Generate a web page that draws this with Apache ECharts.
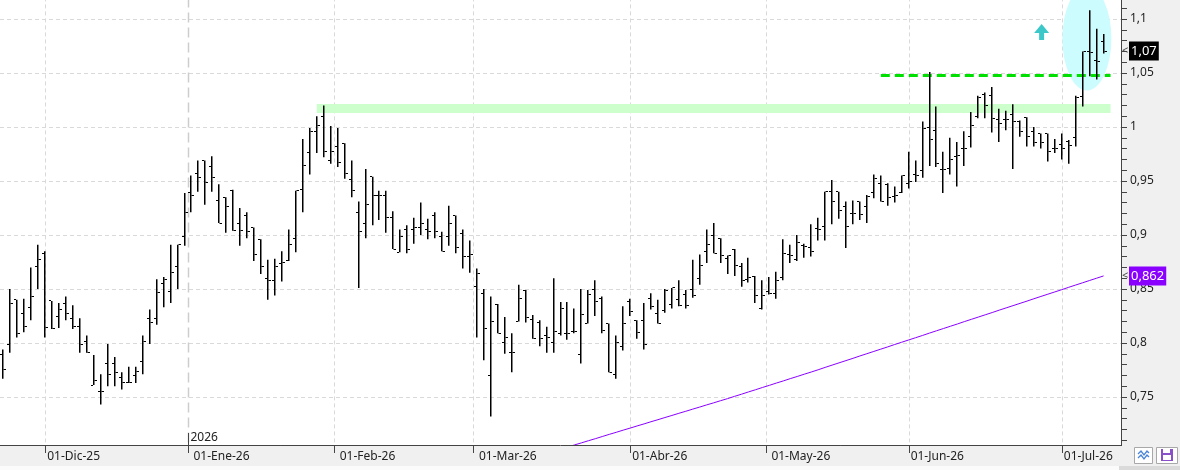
<!DOCTYPE html>
<html><head><meta charset="utf-8">
<script src="https://cdn.jsdelivr.net/npm/echarts@6/dist/echarts.min.js"></script>
<style>html,body{margin:0;padding:0;background:#f0f0f0}#c{width:1180px;height:470px}</style>
</head><body><div id="c"></div>
<script>
// ---------- DATA ----------
const startDate = '2025-11-21';
const barCount = 159;
const padCount = 2;
const holidays = ['2025-12-25','2025-12-26','2026-01-01','2026-04-03','2026-04-06','2026-05-01'];
const monthNames = ['Ene','Feb','Mar','Abr','May','Jun','Jul','Ago','Sep','Oct','Nov','Dic'];

const opens = [
0.789,0.799,0.840,0.827,0.833,0.871,0.883,0.839,0.825,0.837,0.823,0.815,0.801,0.761,0.755,0.781,0.781,0.768,0.763,0.770,
0.783,0.823,0.823,0.855,0.848,0.871,0.899,0.939,0.957,0.969,0.963,0.932,0.935,0.941,0.911,0.918,0.907,0.896,0.860,0.858,
0.874,0.876,0.897,0.942,0.976,0.996,1.010,0.969,0.982,0.985,0.951,0.921,0.911,0.954,0.937,0.937,0.916,0.884,0.905,0.905,
0.907,0.905,0.918,0.899,0.899,0.918,0.901,0.880,0.852,0.846,0.770,0.836,0.800,0.791,0.820,0.849,0.822,0.819,0.807,0.800,
0.809,0.809,0.811,0.789,0.818,0.850,0.841,0.818,0.771,0.797,0.838,0.821,0.821,0.841,0.827,0.830,0.836,0.840,0.845,0.850,
0.860,0.885,0.900,0.897,0.878,0.887,0.871,0.859,0.862,0.832,0.848,0.846,0.861,0.882,0.877,0.890,0.888,0.906,0.908,0.940,
0.940,0.926,0.920,0.931,0.926,0.939,0.948,0.947,0.936,0.939,0.948,0.956,0.960,1.000,0.997,0.961,0.962,0.973,0.980,0.991,
1.010,1.030,1.029,1.007,1.007,1.012,1.005,1.009,0.996,0.994,0.994,0.980,0.984,0.987,0.990,1.028,1.070,1.062,1.079];
const highs = [
0.794,0.850,0.840,0.841,0.870,0.891,0.885,0.839,0.837,0.843,0.835,0.823,0.807,0.789,0.771,0.799,0.787,0.773,0.778,0.778,
0.807,0.831,0.859,0.861,0.891,0.891,0.939,0.955,0.969,0.969,0.973,0.947,0.935,0.942,0.925,0.921,0.907,0.896,0.877,0.878,
0.885,0.905,0.941,0.989,0.999,1.010,1.020,1.001,0.999,0.985,0.969,0.931,0.961,0.954,0.941,0.941,0.922,0.905,0.909,0.916,
0.930,0.915,0.921,0.903,0.927,0.918,0.905,0.895,0.869,0.850,0.843,0.836,0.824,0.809,0.854,0.849,0.826,0.821,0.815,0.860,
0.838,0.838,0.832,0.850,0.849,0.858,0.843,0.818,0.807,0.834,0.841,0.821,0.837,0.846,0.840,0.850,0.851,0.858,0.849,0.877,
0.882,0.905,0.911,0.897,0.881,0.887,0.874,0.879,0.862,0.858,0.861,0.866,0.896,0.891,0.900,0.892,0.910,0.916,0.940,0.951,
0.940,0.931,0.932,0.931,0.937,0.956,0.955,0.948,0.945,0.955,0.977,0.969,1.005,1.051,1.019,0.977,0.990,0.986,0.996,1.014,
1.029,1.032,1.037,1.017,1.015,1.021,1.006,1.009,1.000,0.994,0.994,0.989,0.994,0.988,1.029,1.070,1.108,1.091,1.086];
const lows = [
0.767,0.791,0.805,0.810,0.821,0.850,0.805,0.813,0.814,0.821,0.813,0.791,0.791,0.761,0.743,0.760,0.760,0.757,0.763,0.763,
0.771,0.799,0.817,0.833,0.837,0.850,0.890,0.921,0.940,0.928,0.940,0.911,0.902,0.904,0.890,0.897,0.876,0.864,0.840,0.844,
0.857,0.876,0.884,0.921,0.956,0.976,0.972,0.966,0.963,0.952,0.935,0.851,0.897,0.909,0.914,0.902,0.887,0.884,0.883,0.892,
0.900,0.896,0.897,0.885,0.890,0.883,0.869,0.865,0.805,0.784,0.732,0.809,0.790,0.773,0.820,0.819,0.804,0.797,0.791,0.791,
0.807,0.803,0.809,0.781,0.818,0.825,0.809,0.773,0.767,0.793,0.825,0.804,0.794,0.831,0.818,0.828,0.832,0.834,0.832,0.842,
0.854,0.874,0.883,0.874,0.864,0.862,0.852,0.856,0.837,0.831,0.845,0.841,0.858,0.874,0.876,0.879,0.880,0.895,0.895,0.910,
0.915,0.888,0.910,0.914,0.911,0.934,0.931,0.927,0.930,0.939,0.943,0.949,0.953,0.964,0.963,0.939,0.956,0.945,0.964,0.981,
1.008,1.008,0.995,0.986,0.997,0.961,0.991,0.982,0.982,0.980,0.968,0.976,0.970,0.966,0.982,1.019,1.047,1.044,1.068];
const closes = [
0.775,0.837,0.809,0.815,0.843,0.877,0.814,0.813,0.831,0.827,0.815,0.799,0.791,0.765,0.755,0.771,0.773,0.763,0.763,0.774,
0.801,0.819,0.847,0.859,0.865,0.891,0.921,0.937,0.953,0.949,0.953,0.911,0.926,0.904,0.904,0.903,0.882,0.871,0.858,0.871,
0.875,0.891,0.941,0.964,0.996,1.001,0.977,0.977,0.967,0.957,0.941,0.903,0.928,0.937,0.937,0.916,0.887,0.899,0.887,0.907,
0.911,0.903,0.903,0.885,0.911,0.888,0.880,0.882,0.864,0.813,0.820,0.809,0.805,0.791,0.841,0.824,0.804,0.804,0.805,0.811,
0.832,0.809,0.811,0.826,0.845,0.838,0.812,0.773,0.800,0.818,0.829,0.810,0.799,0.834,0.818,0.849,0.851,0.835,0.835,0.844,
0.872,0.891,0.883,0.881,0.881,0.872,0.858,0.861,0.844,0.844,0.846,0.858,0.883,0.881,0.893,0.889,0.885,0.905,0.940,0.931,
0.923,0.908,0.920,0.919,0.936,0.952,0.931,0.935,0.937,0.955,0.950,0.955,0.999,0.988,0.966,0.961,0.970,0.974,0.980,1.001,
1.027,1.020,1.008,1.003,1.007,1.005,0.996,0.991,0.986,0.986,0.977,0.980,0.980,0.983,1.027,1.070,1.069,1.061,1.070];

// long moving average (purple), starting at bar index 81
const maStart = 81;
const maValues = [
0.7036,0.7056,0.7075,0.7095,0.7114,0.7134,0.7154,0.7173,0.7193,0.7212,0.7232,0.7251,0.7271,0.7290,0.7310,0.7329,0.7349,0.7368,0.7388,0.7407,
0.7427,0.7446,0.7466,0.7485,0.7506,0.7526,0.7547,0.7567,0.7588,0.7608,0.7629,0.7649,0.7670,0.7690,0.7711,0.7731,0.7752,0.7774,0.7795,0.7816,
0.7837,0.7858,0.7880,0.7901,0.7922,0.7943,0.7964,0.7986,0.8007,0.8028,0.8049,0.8070,0.8092,0.8113,0.8134,0.8155,0.8176,0.8198,0.8219,0.8240,
0.8261,0.8282,0.8304,0.8325,0.8346,0.8367,0.8388,0.8410,0.8431,0.8452,0.8473,0.8494,0.8516,0.8537,0.8558,0.8579,0.8600,0.8621];

// annotations (category index, value)
const bandLow = 1.013, bandHigh = 1.0213, bandStartIdx = 45, bandEndIdx = 159;
const breakoutLevel = 1.048, breakoutStartIdx = 126, breakoutEndIdx = 159;
const ellipseCenter = [155.6, 1.082];
const arrowAnchor = [149.1, 1.088];
const yAxisMin = 0.70, yAxisMax = 1.12, yAxisStep = 0.05;

// ---------- BUILD ----------
function tradingDays(start, n) {
  const out = []; const d = new Date(start + 'T00:00:00Z');
  while (out.length < n) {
    const dow = d.getUTCDay(); const s = d.toISOString().slice(0, 10);
    if (dow !== 0 && dow !== 6 && holidays.indexOf(s) < 0) out.push(s);
    d.setUTCDate(d.getUTCDate() + 1);
  }
  return out;
}
const categories = tradingDays(startDate, barCount + padCount);
const monthStartIdx = [];
const monthLinePos = [];
for (let i = 1; i < barCount; i++) {
  if (categories[i].slice(5, 7) !== categories[i - 1].slice(5, 7)) {
    monthStartIdx.push(i);
    const day = +categories[i].slice(8, 10);
    monthLinePos.push({ pos: day === 1 ? i : i - 0.5, year: categories[i].slice(5, 7) === '01', yearText: categories[i].slice(0, 4) });
  }
}
const FONT = '"Noto Sans", "DejaVu Sans", sans-serif';
const ohlcData = opens.map((o, i) => [i, o, closes[i], lows[i], highs[i]]);
const maData = categories.map((c, i) => (i >= maStart && i - maStart < maValues.length) ? maValues[i - maStart] : null);
const lastClose = closes[closes.length - 1];
const lastMA = maValues[maValues.length - 1];
const fmtComma = (v, d) => v.toFixed(d).replace('.', ',');
const priceTags = [
  { value: lastClose, text: fmtComma(lastClose, 2), bg: '#000000' },
  { value: lastMA, text: fmtComma(lastMA, 3), bg: '#8a00ff' }
];

function fracPoint(api, xi, v) {
  const i0 = Math.floor(xi);
  const p = api.coord([i0, v]);
  p[0] += (xi - i0) * api.size([1, 0])[0];
  return p;
}

const chart = echarts.init(document.getElementById('c'), null, { renderer: 'canvas' });
const option = {
  animation: false,
  backgroundColor: '#f0f0f0',
  grid: { left: 0, top: -2.6, width: 1121, height: 453.6, containLabel: false, outerBoundsMode: 'none' },
  xAxis: {
    type: 'category', data: categories, boundaryGap: true, offset: -6, z: 6,
    axisLine: { onZero: false, lineStyle: { color: '#444', width: 1 } },
    axisTick: { show: false },
    splitLine: { show: false },
    axisLabel: {
      interval: (idx) => monthStartIdx.indexOf(idx) >= 0,
      formatter: (val) => '01-' + monthNames[+val.slice(5, 7) - 1] + '-' + val.slice(2, 4),
      align: 'left', margin: 5, padding: [0, 0, 0, 2], color: '#222', fontSize: 12, fontFamily: FONT, lineHeight: 14
    }
  },
  yAxis: {
    type: 'value', position: 'right', min: yAxisMin, max: yAxisMax, interval: yAxisStep, z: 0,
    axisLine: { show: true, lineStyle: { color: '#444' } },
    axisTick: { show: true, inside: false, length: 6, lineStyle: { color: '#444' } },
    minorTick: { show: true, splitNumber: 5, length: 6, lineStyle: { color: '#444' } },
    splitLine: { show: true, lineStyle: { color: '#d9d9d9', type: [4, 3] } },
    axisLabel: { margin: 9, color: '#222', fontSize: 12, fontFamily: FONT, showMinLabel: false, showMaxLabel: false,
      formatter: (v) => String(+v.toFixed(2)).replace('.', ',') }
  },
  series: [
    { // calendar month separators
      type: 'custom', name: 'months', z: 0.5, silent: true,
      data: monthLinePos.map((m, k) => [k, 1]),
      renderItem: (params, api) => {
        const m = monthLinePos[api.value(0)];
        const cs = params.coordSys;
        const x = Math.round(fracPoint(api, m.pos, 1)[0]) + 0.5;
        return { type: 'line', shape: { x1: x, y1: cs.y, x2: x, y2: cs.y + cs.height },
          style: m.year ? { stroke: '#cdcdcd', lineWidth: 1.5, lineDash: [10, 5] } : { stroke: '#d9d9d9', lineWidth: 1, lineDash: [4, 3] } };
      }
    },
    { // highlight ellipse
      type: 'custom', name: 'highlight', z: 1, silent: true,
      data: [[0, 1]],
      renderItem: (params, api) => {
        const p = fracPoint(api, ellipseCenter[0], ellipseCenter[1]);
        return { type: 'circle', x: p[0], y: p[1], scaleY: 52 / 24.5, shape: { cx: 0, cy: 0, r: 24.5 }, style: { fill: '#cdfcfe' } };
      }
    },
    { // arrow
      type: 'custom', name: 'arrow', z: 1, silent: true,
      data: [[0, 1]],
      renderItem: (params, api) => {
        const p = fracPoint(api, arrowAnchor[0], arrowAnchor[1]);
        const x = p[0], y = p[1];
        return { type: 'polygon', shape: { points: [[x, y - 8], [x + 7.5, y + 1], [x + 2.5, y + 1], [x + 2.5, y + 8], [x - 2.5, y + 8], [x - 2.5, y + 1], [x - 7.5, y + 1]] },
          style: { fill: '#3cc8c8' } };
      }
    },
    {
      type: 'line', name: 'MA', data: maData, z: 2, symbol: 'none', clip: true, silent: true,
      lineStyle: { color: '#8a00ff', width: 1 },
      markArea: {
        silent: true, z: 1,
        itemStyle: { color: '#ccffcc' },
        data: [[{ xAxis: categories[bandStartIdx], yAxis: bandLow }, { xAxis: categories[bandEndIdx], yAxis: bandHigh }]]
      },
      markLine: {
        silent: true, z: 2.5, symbol: ['none', 'none'], label: { show: false },
        lineStyle: { color: '#00e000', width: 3, type: [9, 5] },
        data: [[{ xAxis: categories[breakoutStartIdx], yAxis: breakoutLevel }, { xAxis: categories[breakoutEndIdx], yAxis: breakoutLevel }]]
      }
    },
    {
      type: 'custom', name: 'OHLC', z: 3, silent: true,
      data: ohlcData,
      encode: { x: 0, y: [1, 2, 3, 4] },
      renderItem: (params, api) => {
        const i = api.value(0);
        const pO = api.coord([i, api.value(1)]);
        const pC = api.coord([i, api.value(2)]);
        const pL = api.coord([i, api.value(3)]);
        const pH = api.coord([i, api.value(4)]);
        const cx = Math.round(pO[0]);
        return { type: 'group', children: [
          { type: 'rect', shape: { x: cx - 1, y: pH[1], width: 1.5, height: Math.max(1, pL[1] - pH[1]) }, style: { fill: '#000' } },
          { type: 'rect', shape: { x: cx - 3, y: Math.round(pO[1] - 0.5), width: 2, height: 1 }, style: { fill: '#000' } },
          { type: 'rect', shape: { x: cx + 0.5, y: Math.round(pC[1] - 0.5), width: 2.5, height: 1 }, style: { fill: '#000' } }
        ] };
      }
    },
    { // last-value tags on the price axis
      type: 'custom', name: 'priceTags', z: 4, silent: true,
      data: priceTags.map((t, k) => [k, t.value]),
      renderItem: (params, api) => {
        const t = priceTags[api.value(0)];
        const cs = params.coordSys;
        const y = Math.round(api.coord([0, t.value])[1]);
        const xr = cs.x + cs.width;
        return { type: 'group', children: [
          { type: 'text', x: xr + 1, y: y, style: { text: '<', fill: '#444', font: '11px ' + FONT, verticalAlign: 'middle', align: 'left' } },
          { type: 'text', x: xr + 8, y: y, style: { text: t.text, fill: '#fff', backgroundColor: t.bg, padding: [2, 2, 2, 2], lineHeight: 15, font: '13px ' + FONT, verticalAlign: 'middle', align: 'left' } }
        ] };
      }
    },
    { // axis ticks at month boundaries and year marker
      type: 'custom', name: 'axisMarks', z: 7, silent: true,
      data: monthLinePos.map((m, k) => [k, 1]),
      renderItem: (params, api) => {
        const m = monthLinePos[api.value(0)];
        const cs = params.coordSys;
        const axisY = cs.y + cs.height - 6;
        const x = Math.round(fracPoint(api, m.pos, 1)[0]) + 0.5;
        const children = [{ type: 'line', shape: { x1: x, y1: m.year ? axisY - 12 : axisY, x2: x, y2: axisY + 8 }, style: { stroke: '#444', lineWidth: 1 } }];
        if (m.year) children.push({ type: 'text', x: x + 2, y: axisY - 7, style: { text: m.yearText, fill: '#222', font: '12px ' + FONT, verticalAlign: 'middle', align: 'left' } });
        return { type: 'group', children };
      }
    }
  ],
  graphic: [
    { type: 'rect', z: -10, silent: true, shape: { x: 0, y: 0, width: 1121, height: 445 }, style: { fill: '#ffffff' } },
    { type: 'rect', z: 5, silent: true, shape: { x: 0, y: 446, width: 1180, height: 20 }, style: { fill: '#f0f0f0' } },
    { type: 'rect', z: 5, silent: true, shape: { x: 0, y: 466, width: 1119, height: 4 }, style: { fill: '#fbfbfb' } },
    { type: 'rect', z: 5, silent: true, shape: { x: 1119, y: 466, width: 61, height: 4 }, style: { fill: '#dadada' } },
    { type: 'rect', z: 7, silent: true, shape: { x: 1134.5, y: 447.5, width: 18, height: 16 }, style: { fill: '#fff', stroke: '#a8a8a8', lineWidth: 1 } },
    { type: 'polyline', z: 8, silent: true, shape: { points: [[1138, 454], [1141, 451], [1144, 455], [1147, 451], [1149, 453]] }, style: { stroke: '#4a86d8', lineWidth: 1.3, fill: null } },
    { type: 'polyline', z: 8, silent: true, shape: { points: [[1138, 458], [1141, 455], [1144, 459], [1147, 455], [1149, 457]] }, style: { stroke: '#4a86d8', lineWidth: 1.3, fill: null } },
    { type: 'rect', z: 7, silent: true, shape: { x: 1156.5, y: 447.5, width: 21, height: 16 }, style: { fill: '#fff', stroke: '#a8a8a8', lineWidth: 1 } },
    { type: 'rect', z: 8, silent: true, shape: { x: 1161, y: 449, width: 12, height: 12 }, style: { fill: '#8a50c8' } },
    { type: 'rect', z: 9, silent: true, shape: { x: 1163, y: 449, width: 7, height: 4 }, style: { fill: '#ffffff' } },
    { type: 'rect', z: 9, silent: true, shape: { x: 1163, y: 455, width: 8, height: 5 }, style: { fill: '#ffffff' } }
  ]
};
chart.setOption(option);
</script>
</body></html>
